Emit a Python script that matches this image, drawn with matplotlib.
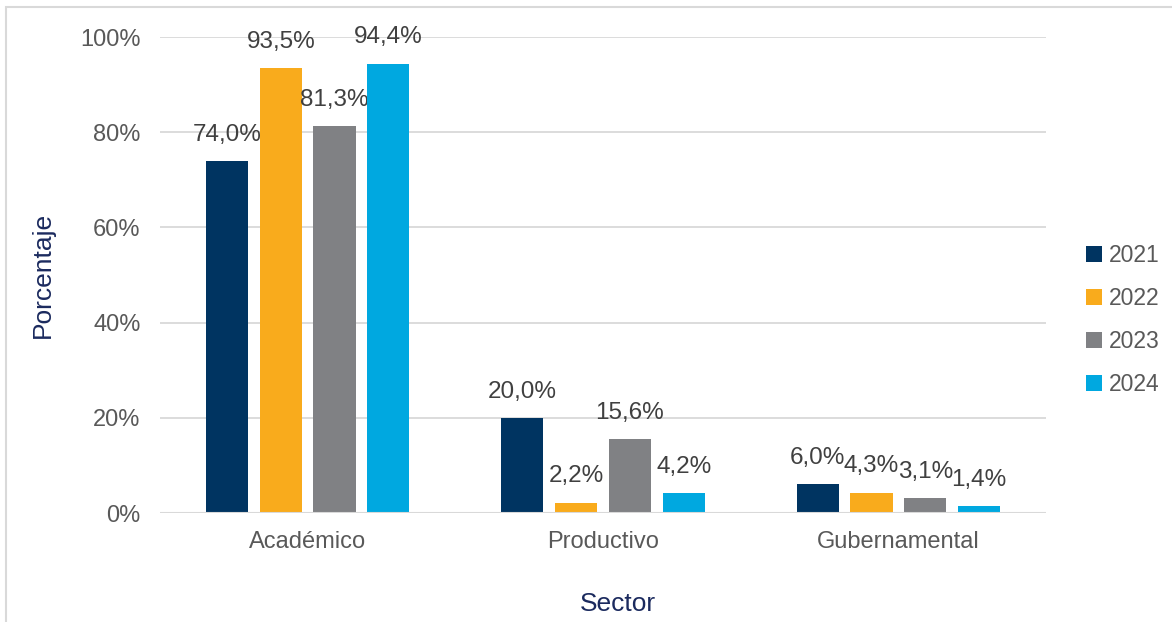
import matplotlib
matplotlib.use("Agg")
import matplotlib.pyplot as plt
import numpy as np
from matplotlib.patches import Rectangle

categories = ["Académico", "Productivo", "Gubernamental"]
years = ["2021", "2022", "2023", "2024"]
values = {
    "2021": [74.0, 20.0, 6.0],
    "2022": [93.5, 2.2, 4.3],
    "2023": [81.3, 15.6, 3.1],
    "2024": [94.4, 4.2, 1.4],
}
colors = ["#003461", "#F9AB1C", "#808184", "#00A8E0"]
yticks = [0, 20, 40, 60, 80, 100]

plt.rcParams['font.family'] = ['Liberation Sans', 'DejaVu Sans']
fig = plt.figure(figsize=(11.72, 6.22), dpi=100)
ax = fig.add_axes([160/1172, 1-513/622, 886/1172, 476/622])

# outer frame
fig.patches.append(Rectangle((6/1172, -0.1), 1.2, (1-7/622)+0.1, transform=fig.transFigure,
                             fill=False, edgecolor="#D9D9D9", linewidth=1.5))

x = np.arange(len(categories))
step = 0.182
width = 0.143
for i, (yr, c) in enumerate(zip(years, colors)):
    pos = x + (i - 1.5) * step
    bars = ax.bar(pos, values[yr], width=width, color=c, label=yr, zorder=3)
    for b, v in zip(bars, values[yr]):
        ax.text(b.get_x() + b.get_width()/2, v + 3.2, f"{v:.1f}%".replace(".", ","),
                ha="center", va="bottom", fontsize=17.5, color="#404040")

ax.set_xlim(-0.5, 2.5)
ax.set_ylim(0, 100)
ax.set_yticks(yticks)
ax.set_yticklabels([f"{t}%" for t in yticks])
ax.set_xticks(x)
ax.set_xticklabels(categories)
ax.tick_params(axis="both", length=0, labelsize=17, labelcolor="#595959")
ax.tick_params(axis="y", pad=14)
ax.tick_params(axis="x", pad=13)
ax.grid(axis="y", color="#D9D9D9", linewidth=1.3, zorder=0)
for s in ax.spines.values():
    s.set_visible(False)
ax.axhline(0, color="#D9D9D9", linewidth=1.5, zorder=4)

ax.set_ylabel("Porcentaje", fontsize=19, color="#1B2A5E", labelpad=18)
ax.set_xlabel("Sector", fontsize=19, color="#1B2A5E", labelpad=28)
ax.xaxis.set_label_coords(0.517, -0.165)

leg = ax.legend(loc="center left", bbox_to_anchor=(1.022, 0.405), frameon=False,
                fontsize=16.5, handlelength=0.7, handleheight=0.7, handletextpad=0.3,
                labelspacing=0.88, labelcolor="#595959")

fig.savefig("out.png", dpi=100)
